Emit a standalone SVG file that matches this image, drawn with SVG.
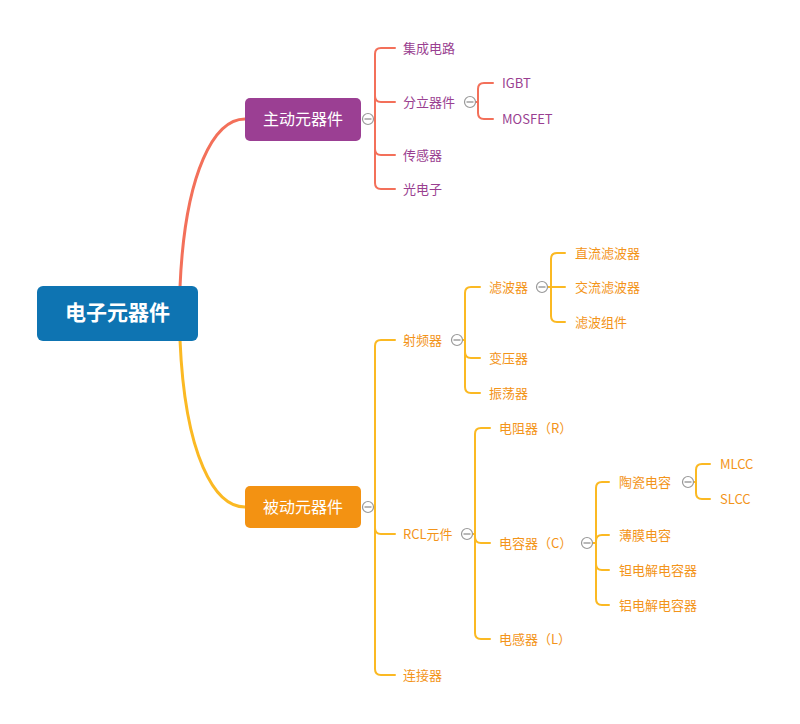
<svg xmlns="http://www.w3.org/2000/svg" width="800" height="724" viewBox="0 0 800 724">
<style>
text{font-family:"Noto Sans CJK SC","Noto Sans",sans-serif;}
.r{fill:none;stroke:#F3705A;stroke-width:2;stroke-linecap:round}
.y{fill:none;stroke:#FBB923;stroke-width:2;stroke-linecap:round}
.tp{font-size:13px;fill:#9A3F91}
.to{font-size:13px;fill:#F39419}
.c{fill:#fff;stroke:#999;stroke-width:1.2}
.cm{stroke:#888;stroke-width:1.2}
.l1{font-size:16px;fill:#fff;text-anchor:middle}
</style>
<rect width="800" height="724" fill="#fff"/>
<g id="connectors">
<path d="M180,287 C185,170 215,119 245,119" fill="none" stroke="#F3705A" stroke-width="3"/>
<path d="M180,340 C185,457 215,507 245,507" fill="none" stroke="#FBB923" stroke-width="3"/>
<!-- active children -->
<path class="r" d="M373,119 H375 M375,119 V54 Q375,48 381,48 H395 M375,119 V96 Q375,102 381,102 H395 M375,119 V149 Q375,155 381,155 H395 M375,119 V183 Q375,189 381,189 H395"/>
<path class="r" d="M475,102 H478 V89 Q478,83 484,83 H493 M478,102 V113 Q478,119 484,119 H493"/>
<!-- passive children -->
<path class="y" d="M373,507 H375 M375,507 V346 Q375,340 381,340 H395 M375,507 V528 Q375,534 381,534 H395 M375,507 V669 Q375,675 381,675 H395"/>
<path class="y" d="M462,340 H465 V293 Q465,287 471,287 H480 M465,340 V352 Q465,358 471,358 H480 M465,340 V387 Q465,393 471,393 H480"/>
<path class="y" d="M547,287 H551 V259 Q551,253 557,253 H565 M551,287 H565 M551,287 V316 Q551,322 557,322 H565"/>
<path class="y" d="M472,534 H475 V434 Q475,428 481,428 H490 M475,534 V537 Q475,543 481,543 H490 M475,534 V633 Q475,639 481,639 H490"/>
<path class="y" d="M592,543 H596 V488 Q596,482 602,482 H609 M596,543 V541 Q596,535 602,535 H609 M596,543 V564 Q596,570 602,570 H609 M596,543 V599 Q596,605 602,605 H609"/>
<path class="y" d="M693,482 H696 V470 Q696,464 702,464 H710 M696,482 V493 Q696,499 702,499 H710"/>
</g>
<g id="root">
<rect x="37" y="286" width="161" height="55" rx="6" fill="#0E74B2"/>
<text x="117.5" y="320" font-size="21" font-weight="bold" fill="#fff" text-anchor="middle">电子元器件</text>
</g>
<g id="active">
<rect x="245" y="98" width="116" height="43" rx="5" fill="#9B3F93"/>
<text class="l1" x="303" y="125">主动元器件</text>
<circle class="c" cx="368" cy="119" r="5.5"/><line class="cm" x1="364.5" y1="119" x2="371.5" y2="119"/>
</g>
<g id="passive">
<rect x="245" y="486" width="116" height="42" rx="5" fill="#F39212"/>
<text class="l1" x="303" y="513">被动元器件</text>
<circle class="c" cx="368" cy="507" r="5.5"/><line class="cm" x1="364.5" y1="507" x2="371.5" y2="507"/>
</g>
<g id="n-jicheng"><text class="tp" x="403" y="52.5">集成电路</text></g>
<g id="n-fenli"><text class="tp" x="403" y="106.5">分立器件</text>
<circle class="c" cx="470" cy="102" r="5.5"/><line class="cm" x1="466.5" y1="102" x2="473.5" y2="102"/></g>
<g id="n-igbt"><text class="tp" x="502" y="87.5">IGBT</text></g>
<g id="n-mosfet"><text class="tp" x="502" y="123.5">MOSFET</text></g>
<g id="n-chuangan"><text class="tp" x="403" y="159.5">传感器</text></g>
<g id="n-guang"><text class="tp" x="403" y="193.5">光电子</text></g>
<g id="n-shepin"><text class="to" x="403" y="344.5">射频器</text>
<circle class="c" cx="457" cy="340" r="5.5"/><line class="cm" x1="453.5" y1="340" x2="460.5" y2="340"/></g>
<g id="n-lvbo"><text class="to" x="489" y="291.5">滤波器</text>
<circle class="c" cx="542" cy="287" r="5.5"/><line class="cm" x1="538.5" y1="287" x2="545.5" y2="287"/></g>
<g id="n-zhiliu"><text class="to" x="575" y="257.5">直流滤波器</text></g>
<g id="n-jiaoliu"><text class="to" x="575" y="291.5">交流滤波器</text></g>
<g id="n-zujian"><text class="to" x="575" y="326.5">滤波组件</text></g>
<g id="n-bianya"><text class="to" x="489" y="362.5">变压器</text></g>
<g id="n-zhendang"><text class="to" x="489" y="397.5">振荡器</text></g>
<g id="n-rcl"><text class="to" x="403" y="538.5">RCL元件</text>
<circle class="c" cx="467" cy="534" r="5.5"/><line class="cm" x1="463.5" y1="534" x2="470.5" y2="534"/></g>
<g id="n-r"><text class="to" x="499" y="432.5">电阻器（R）</text></g>
<g id="n-c"><text class="to" x="499" y="547.5">电容器（C）</text>
<circle class="c" cx="587" cy="543" r="5.5"/><line class="cm" x1="583.5" y1="543" x2="590.5" y2="543"/></g>
<g id="n-l"><text class="to" x="499" y="643.5">电感器（L）</text></g>
<g id="n-taoci"><text class="to" x="619" y="486.5">陶瓷电容</text>
<circle class="c" cx="688" cy="482" r="5.5"/><line class="cm" x1="684.5" y1="482" x2="691.5" y2="482"/></g>
<g id="n-mlcc"><text class="to" x="720" y="468.5">MLCC</text></g>
<g id="n-slcc"><text class="to" x="720" y="503.5">SLCC</text></g>
<g id="n-bomo"><text class="to" x="619" y="539.5">薄膜电容</text></g>
<g id="n-tan"><text class="to" x="619" y="574.5">钽电解电容器</text></g>
<g id="n-lv"><text class="to" x="619" y="609.5">铝电解电容器</text></g>
<g id="n-lianjie"><text class="to" x="403" y="679.5">连接器</text></g>
</svg>
